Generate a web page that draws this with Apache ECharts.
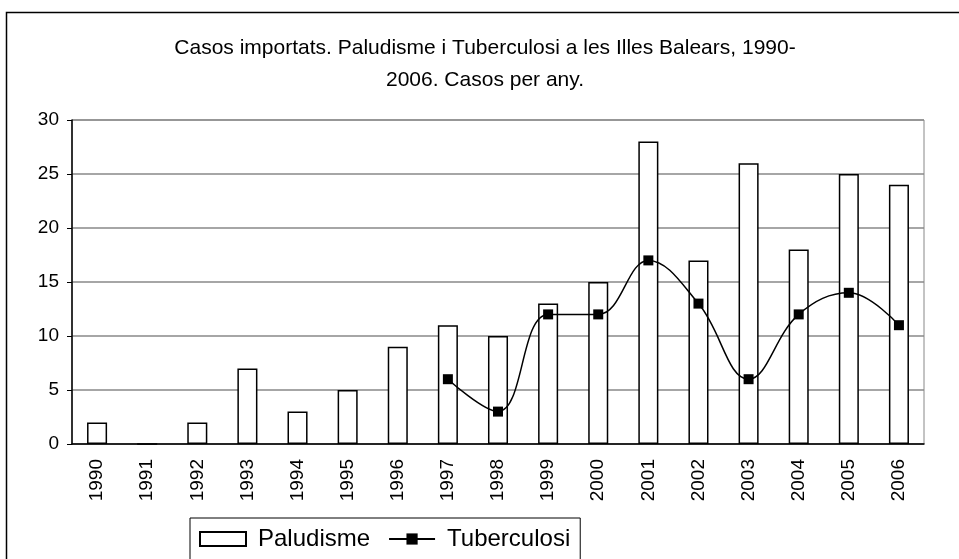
<!DOCTYPE html>
<html>
<head>
<meta charset="utf-8">
<script src="https://cdn.jsdelivr.net/npm/echarts@6/dist/echarts.min.js"></script>
<style>
  html, body { margin: 0; padding: 0; background: #fff; }
  #chart { width: 959px; height: 559px; }
</style>
</head>
<body>
<div id="chart"></div>
<script>
// dades
const years = ["1990", "1991", "1992", "1993", "1994", "1995", "1996", "1997", "1998",
  "1999", "2000", "2001", "2002", "2003", "2004", "2005", "2006"];
const paludisme = [2, 0, 2, 7, 3, 5, 9, 11, 10, 13, 15, 28, 17, 26, 18, 25, 24];
const tuberculosi = [null, null, null, null, null, null, null, 6, 3, 12, 12, 17, 13, 6, 12, 14, 11];
const yTicks = { min: 0, max: 30, interval: 5 };

const font = "'Liberation Sans', Arial, sans-serif";
const chart = echarts.init(document.getElementById("chart"));

chart.setOption({
  animation: false,
  backgroundColor: "#fff",
  textStyle: { fontFamily: font, color: "#000" },
  graphic: [{
    type: "rect",
    left: 4, top: 10,
    shape: { width: 1000, height: 600 },
    style: { fill: "none", stroke: "#000", lineWidth: 1.5 },
    silent: true
  }],
  title: {
    text: "Casos importats. Paludisme i Tuberculosi a les Illes Balears, 1990-\n2006. Casos per any.",
    left: 480, top: 27, textAlign: "center",
    textStyle: { fontFamily: font, fontSize: 21, fontWeight: "normal", color: "#000", lineHeight: 32 }
  },
  legend: {
    left: 190, top: 518,
    padding: [9, 10, 30, 9],
    borderColor: "#000", borderWidth: 1,
    itemWidth: 46, itemHeight: 14, itemGap: 18,
    textStyle: { fontFamily: font, fontSize: 24, color: "#000", padding: [0, 0, 0, 7] },
    data: [{ name: "Paludisme", icon: "rect" }, { name: "Tuberculosi" }]
  },
  grid: {
    left: 72, right: 35, top: 120, bottom: 115,
    show: true, borderColor: "#888", borderWidth: 1
  },
  xAxis: {
    type: "category",
    data: years,
    axisLine: { lineStyle: { color: "#000", width: 1.5 } },
    axisTick: { length: 6, lineStyle: { color: "#000" } },
    axisLabel: { rotate: 90, fontSize: 19, color: "#000", margin: 15, fontFamily: font }
  },
  yAxis: {
    type: "value",
    min: yTicks.min, max: yTicks.max, interval: yTicks.interval,
    axisLine: { show: true, lineStyle: { color: "#000", width: 1.5 } },
    axisTick: { show: true, length: 5, lineStyle: { color: "#000" } },
    axisLabel: { fontSize: 19, color: "#000", margin: 13, fontFamily: font },
    splitLine: { lineStyle: { color: "#888", width: 1.5 } }
  },
  series: [
    {
      name: "Paludisme",
      type: "bar",
      data: paludisme,
      barWidth: "40%",
      itemStyle: { color: "#fff", borderColor: "#000", borderWidth: 1.5 }
    },
    {
      name: "Tuberculosi",
      type: "line",
      data: tuberculosi,
      smooth: 0.4,
      symbol: "rect",
      symbolSize: 10,
      lineStyle: { color: "#000", width: 1.5 },
      itemStyle: { color: "#000" }
    }
  ]
});
</script>
</body>
</html>
